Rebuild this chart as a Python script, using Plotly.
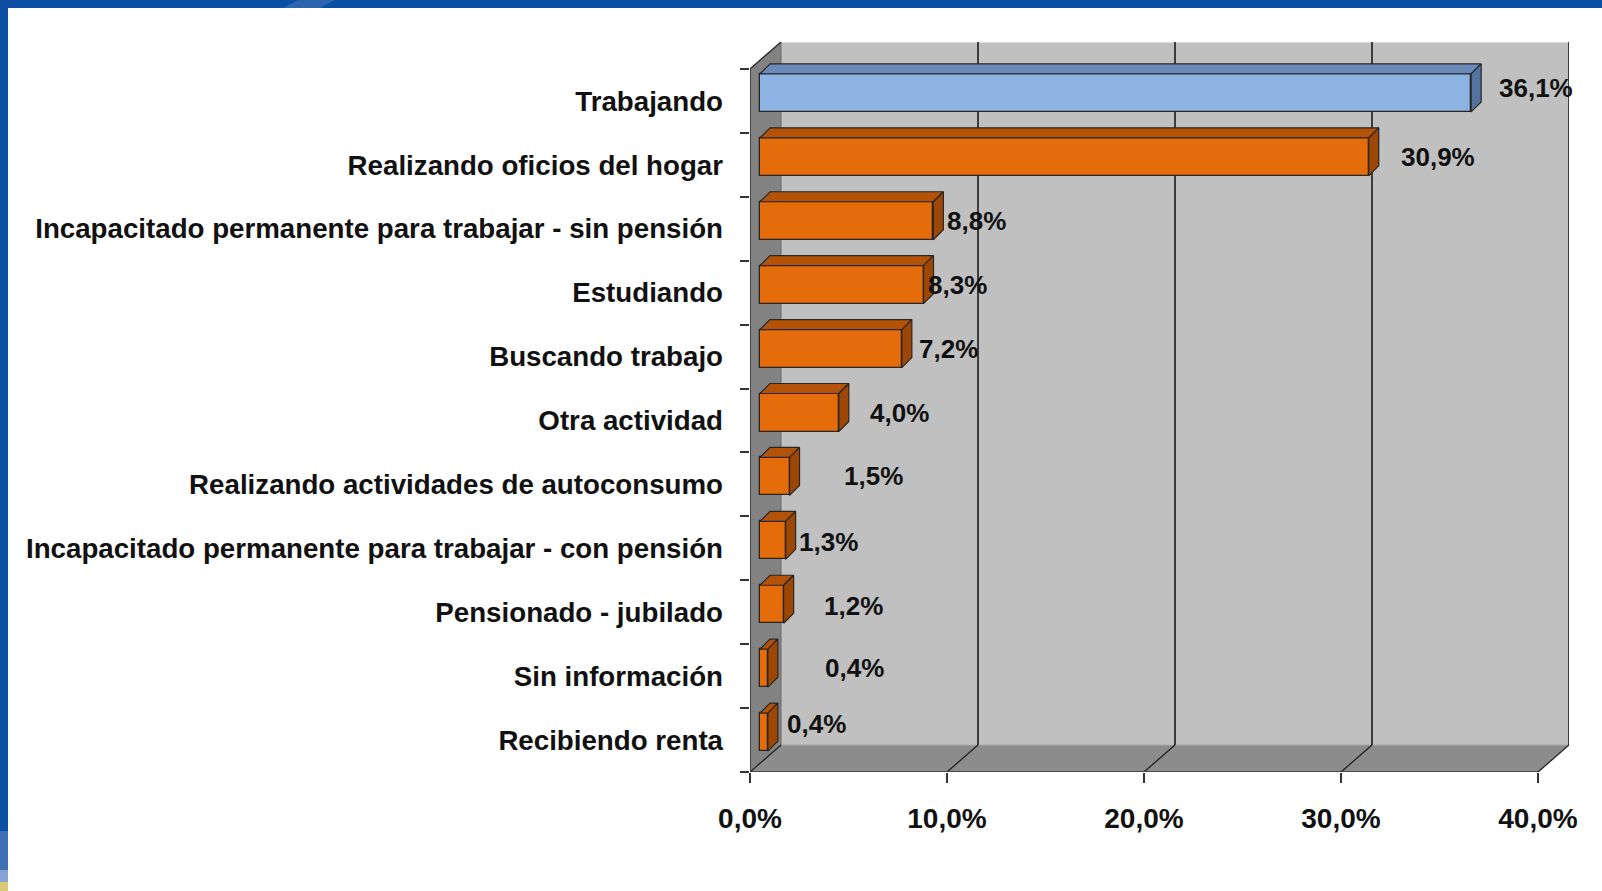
import plotly.graph_objects as go

# ---------------- data ----------------
categories = [
    "Trabajando",
    "Realizando oficios del hogar",
    "Incapacitado permanente para trabajar - sin pensión",
    "Estudiando",
    "Buscando trabajo",
    "Otra actividad",
    "Realizando actividades de autoconsumo",
    "Incapacitado permanente para trabajar - con pensión",
    "Pensionado - jubilado",
    "Sin información",
    "Recibiendo renta",
]
values = [36.1, 30.9, 8.8, 8.3, 7.2, 4.0, 1.5, 1.3, 1.2, 0.4, 0.4]
value_labels = ["36,1%", "30,9%", "8,8%", "8,3%", "7,2%", "4,0%", "1,5%", "1,3%", "1,2%", "0,4%", "0,4%"]
x_tick_values = [0, 10, 20, 30, 40]
x_tick_labels = ["0,0%", "10,0%", "20,0%", "30,0%", "40,0%"]
highlight_category = "Trabajando"

# ---------------- layout geometry (pixels) ----------------
W, H = 1602, 891
L, R, T, B = 750, 33, 42, 119
PW, PH = W - L - R, H - T - B
X_FRONT_MAX = 40
n = len(categories)

wall_dx_px, wall_dy_px = 31, 27       # depth of the 3D box
bar_off_dx_px, bar_off_dy_px = 10, 8  # bar front face offset
bar_dep_dx_px, bar_dep_dy_px = 10, 10 # bar depth
bar_h_px = 38

# label tweaks (pixels, relative to the bar end / bar centre)
label_dx_px = [16, 20, 2, -8, 5, 19, 42, 1, 28, 45, 7]
label_dy_px = [5, 0, 0, 0, 0, 0, 0, -2, -2, 0, 8]

px_per_pct = (PW - wall_dx_px) / X_FRONT_MAX
px_per_idx = (PH - wall_dy_px) / n
x_max = PW / px_per_pct
y_top = -0.5 - wall_dy_px / px_per_idx


def dxp(px):
    return px / px_per_pct


def dyp(px):
    return px / px_per_idx


wdx, wdy = dxp(wall_dx_px), dyp(wall_dy_px)
bdx, bdy = dxp(bar_off_dx_px), dyp(bar_off_dy_px)
ddx, ddy = dxp(bar_dep_dx_px), dyp(bar_dep_dy_px)
bh = dyp(bar_h_px)

FONT = "Liberation Sans, Arial, sans-serif"
EDGE = "#262626"

front_colors = ["#8db3e2" if c == highlight_category else "#e46c0a" for c in categories]
top_colors = ["#6a88b8" if c == highlight_category else "#b45307" for c in categories]
side_colors = ["#56729f" if c == highlight_category else "#9e4604" for c in categories]

fig = go.Figure()

ypos = list(range(n))
bar_y = [i - bdy for i in ypos]

fig.add_trace(go.Bar(
    orientation="h", x=values, y=bar_y, base=bdx, width=bh,
    marker=dict(color=front_colors, line=dict(color=EDGE, width=1.3)),
    hoverinfo="skip", showlegend=False,
))

for i, v in enumerate(values):
    x0 = bdx
    x1 = bdx + v
    yt = bar_y[i] - bh / 2
    yb = bar_y[i] + bh / 2
    # top face
    fig.add_trace(go.Scatter(
        x=[x0, x1, x1 + ddx, x0 + ddx, x0],
        y=[yt, yt, yt - ddy, yt - ddy, yt],
        mode="lines", fill="toself", fillcolor=top_colors[i],
        line=dict(color=EDGE, width=1.2), hoverinfo="skip", showlegend=False,
    ))
    # side face
    fig.add_trace(go.Scatter(
        x=[x1, x1 + ddx, x1 + ddx, x1, x1],
        y=[yt, yt - ddy, yb - ddy, yb, yt],
        mode="lines", fill="toself", fillcolor=side_colors[i],
        line=dict(color=EDGE, width=1.2), hoverinfo="skip", showlegend=False,
    ))

shapes = []
yb0 = n - 0.5
# back wall
shapes.append(dict(type="rect", xref="x", yref="y", x0=wdx, x1=X_FRONT_MAX + wdx,
                   y0=-0.5 - wdy, y1=yb0 - wdy, fillcolor="#c0c0c0",
                   line=dict(width=0), layer="below"))
shapes.append(dict(type="line", xref="x", yref="y", x0=wdx, x1=X_FRONT_MAX + wdx,
                   y0=-0.5 - wdy, y1=-0.5 - wdy, line=dict(color="#dcdcdc", width=2), layer="below"))
# left wall
shapes.append(dict(type="path", xref="x", yref="y",
                   path=f"M 0,-0.5 L {wdx},{-0.5 - wdy} L {wdx},{yb0 - wdy} L 0,{yb0} Z",
                   fillcolor="#828282", line=dict(width=0), layer="below"))
# floor
shapes.append(dict(type="path", xref="x", yref="y",
                   path=f"M 0,{yb0} L {wdx},{yb0 - wdy} L {X_FRONT_MAX + wdx},{yb0 - wdy} L {X_FRONT_MAX},{yb0} Z",
                   fillcolor="#8c8c8c", line=dict(width=0), layer="below"))
shapes.append(dict(type="line", xref="x", yref="y", x0=wdx, x1=X_FRONT_MAX + wdx,
                   y0=yb0 - wdy, y1=yb0 - wdy, line=dict(color="#a8a8a8", width=1), layer="below"))
# back wall gridlines
for t in x_tick_values[1:]:
    shapes.append(dict(type="line", xref="x", yref="y", x0=t + wdx, x1=t + wdx,
                       y0=-0.5 - wdy, y1=yb0 - wdy, line=dict(color="#111111", width=1.5), layer="below"))
shapes.append(dict(type="line", xref="x", yref="y", x0=wdx, x1=wdx,
                   y0=-0.5 - wdy, y1=yb0 - wdy, line=dict(color="#6a6a6a", width=1), layer="below"))
# floor diagonals
for t in x_tick_values:
    shapes.append(dict(type="line", xref="x", yref="y", x0=t, x1=t + wdx,
                       y0=yb0, y1=yb0 - wdy, line=dict(color="#222222", width=1.3), layer="below"))
# front edges
shapes.append(dict(type="line", xref="x", yref="y", x0=0, x1=0, y0=-0.5, y1=yb0,
                   line=dict(color="#333333", width=1.5), layer="below"))
shapes.append(dict(type="line", xref="x", yref="y", x0=0, x1=X_FRONT_MAX, y0=yb0, y1=yb0,
                   line=dict(color="#333333", width=1.5), layer="below"))
shapes.append(dict(type="line", xref="x", yref="y", x0=0, x1=wdx, y0=-0.5, y1=-0.5 - wdy,
                   line=dict(color="#333333", width=1.5), layer="below"))


# decorative blue frame (paper coords from pixels)
def pxx(px):
    return (px - L) / PW


def pxy(py):
    return 1 - (py - T) / PH


def prect(x0, y0, x1, y1, color):
    return dict(type="rect", xref="paper", yref="paper", x0=pxx(x0), x1=pxx(x1),
                y0=pxy(y1), y1=pxy(y0), fillcolor=color, line=dict(width=0), layer="above")


shapes.append(prect(0, 0, W, 8, "#0b4ea3"))
shapes.append(dict(type="path", xref="paper", yref="paper",
                   path=f"M {pxx(283)},{pxy(8)} L {pxx(298)},{pxy(0)} L {pxx(335)},{pxy(0)} L {pxx(320)},{pxy(8)} Z",
                   fillcolor="#2c64ae", line=dict(width=0), layer="above"))
shapes.append(prect(0, 0, 8, 831, "#0b4ea3"))
shapes.append(prect(0, 831, 8, 870, "#3f70b4"))
shapes.append(prect(0, 870, 8, 882, "#86a3d3"))
shapes.append(prect(0, 882, 8, H, "#d8cb78"))

annotations = []
for i, v in enumerate(values):
    annotations.append(dict(
        x=bdx + v + ddx + dxp(label_dx_px[i]),
        y=bar_y[i] - dyp(label_dy_px[i]),
        xref="x", yref="y", text=value_labels[i], showarrow=False,
        xanchor="left", yanchor="middle",
        font=dict(family=FONT, size=26, color="#111111", weight="bold"),
    ))

fig.update_layout(
    width=W, height=H, autosize=False,
    margin=dict(l=L, r=R, t=T, b=B, pad=0),
    paper_bgcolor="white", plot_bgcolor="white",
    shapes=shapes, annotations=annotations,
    bargap=0, showlegend=False,
    font=dict(family=FONT, size=26, color="#111111", weight="bold"),
)
fig.update_xaxes(
    range=[0, x_max], tickmode="array", tickvals=x_tick_values, ticktext=x_tick_labels,
    ticks="outside", ticklen=10, tickwidth=1.5, tickcolor="#333333",
    showgrid=False, zeroline=False, showline=False, ticklabelstandoff=11,
    tickfont=dict(family=FONT, size=28, color="#111111", weight="bold"),
)
fig.update_yaxes(
    range=[n - 0.5, y_top], tickmode="array", tickvals=ypos, ticktext=categories,
    ticks="", showgrid=False, zeroline=False, showline=False, ticklabelstandoff=26,
    tickfont=dict(family=FONT, size=27.7, color="#111111", weight="bold"),
    minor=dict(tickmode="array", tickvals=[i - 0.5 for i in range(n + 1)], ticks="outside",
               ticklen=9, tickwidth=1.5, tickcolor="#333333", showgrid=False),
)

fig.write_html(
    "out.html",
    config={"displayModeBar": False},
    post_script="document.body.style.margin='0';document.body.style.overflow='hidden';",
)
